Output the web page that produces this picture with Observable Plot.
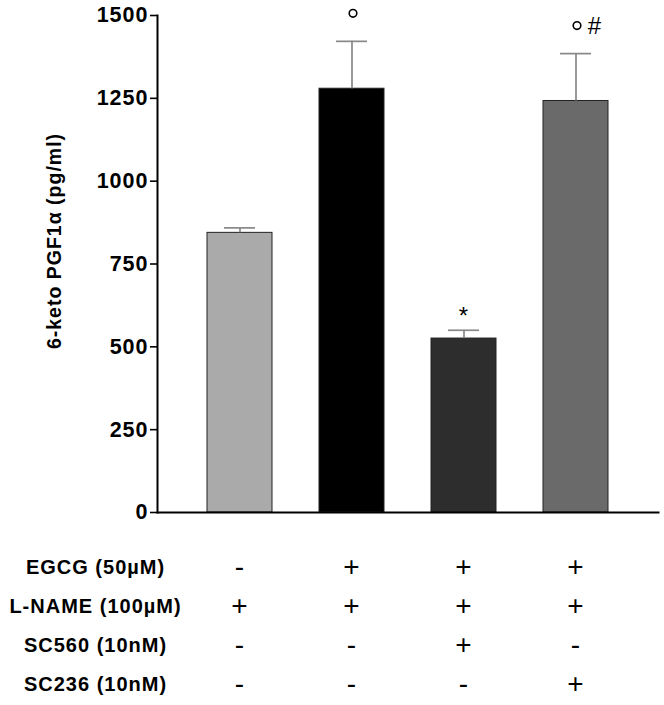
<!DOCTYPE html>
<html>
<head>
<meta charset="utf-8">
<script src="https://cdn.jsdelivr.net/npm/d3@7"></script>
<script src="https://cdn.jsdelivr.net/npm/@observablehq/plot@0.6"></script>
<style>
  html, body { margin: 0; padding: 0; background: #fff; }
  #chart svg { display: block; }
  #chart text { letter-spacing: 1px; }
  #chart g[aria-label="y-label"] text { letter-spacing: 2.1px; }
  #chart g[aria-label="flags"] text { letter-spacing: 0; }
</style>
</head>
<body>
<div id="chart"></div>
<script>
const groups = ["G1", "G2", "G3", "G4"];
const means = [844, 1279, 525, 1242];
const errors = [15, 143, 25, 143];
const colors = ["#aaaaaa", "#000000", "#2d2d2d", "#6a6a6a"];
const marks = ["", "°", "*", "°#"];
const yTicks = [0, 250, 500, 750, 1000, 1250, 1500];
const yLabel = "6-keto PGF1α (pg/ml)";

const rowLabels = ["EGCG (50µM)", "L-NAME (100µM)", "SC560 (10nM)", "SC236 (10nM)"];
const egcg = ["-", "+", "+", "+"];
const lname = ["+", "+", "+", "+"];
const sc560 = ["-", "-", "+", "-"];
const sc236 = ["-", "-", "-", "+"];

const data = groups.map((g, i) => ({g, mean: means[i], hi: means[i] + errors[i], color: colors[i], mark: marks[i]}));
const signRows = [egcg, lname, sc560, sc236];
const table = [];
signRows.forEach((row, r) => row.forEach((s, i) => table.push({row: rowLabels[r], g: groups[i], s})));

const font = "'Liberation Sans', Arial, sans-serif";
const W = 664, ML = 157, MR = 6;
const xScale = {type: "band", domain: groups, paddingInner: 0.422, paddingOuter: 0.442, axis: null};

const chart = Plot.plot({
  width: W,
  height: 530,
  marginLeft: ML,
  marginRight: MR,
  marginTop: 15,
  marginBottom: 18,
  style: {fontFamily: font, background: "#fff", overflow: "visible"},
  x: xScale,
  y: {domain: [0, 1500], axis: null},
  marks: [
    Plot.barY(data, {x: "g", y: "mean", fill: "color", stroke: "#222", strokeWidth: 1}),
    Plot.ruleX(data, {x: "g", y1: "mean", y2: "hi", stroke: "#888", strokeWidth: 1.7}),
    Plot.tickY(data, {x: "g", y: "hi", stroke: "#888", strokeWidth: 1.7, insetLeft: 17, insetRight: 17}),
    Plot.dot(data.filter(d => d.mark.includes("°")), {x: "g", y: "hi", dx: 1, dy: -28, r: 3.8, stroke: "#000", strokeWidth: 1.6, fill: "none"}),
    Plot.text(data.filter(d => d.mark.includes("#")), {ariaLabel: "flags", x: "g", y: "hi", text: () => "#", dx: 19, dy: -27, fontSize: 24, fill: "#000"}),
    Plot.text(data.filter(d => d.mark.includes("*")), {ariaLabel: "flags", x: "g", y: "hi", text: () => "*", dy: -14, fontSize: 24, fill: "#000"}),
    Plot.axisY({ticks: yTicks, tickSize: 7, tickPadding: 2, strokeWidth: 1.6, fontSize: 21.5, fontWeight: "bold", label: null, tickFormat: d => String(d), fill: "#000"}),
    Plot.frame({anchor: "left", stroke: "#000", strokeWidth: 2}),
    Plot.frame({anchor: "bottom", stroke: "#000", strokeWidth: 2}),
    Plot.text([yLabel], {ariaLabel: "y-label", frameAnchor: "left", textAnchor: "middle", rotate: -90, dx: -103, dy: -23, fontSize: 19.5, fontWeight: "bold", fill: "#000"})
  ]
});

const tablePlot = Plot.plot({
  width: W,
  height: 175,
  marginLeft: ML,
  marginRight: MR,
  marginTop: 36,
  marginBottom: 20,
  style: {fontFamily: font, background: "#fff"},
  x: xScale,
  y: {type: "point", domain: rowLabels, padding: 0, axis: null},
  marks: [
    Plot.axisY({tickSize: 0, tickPadding: ML - 95, textAnchor: "middle", fontSize: 20, fontWeight: "bold", label: null, fill: "#000"}),
    Plot.text(table, {x: "g", y: "row", text: "s", fontSize: 28, fill: "#000"})
  ]
});

document.getElementById("chart").append(chart, tablePlot);
</script>
</body>
</html>
